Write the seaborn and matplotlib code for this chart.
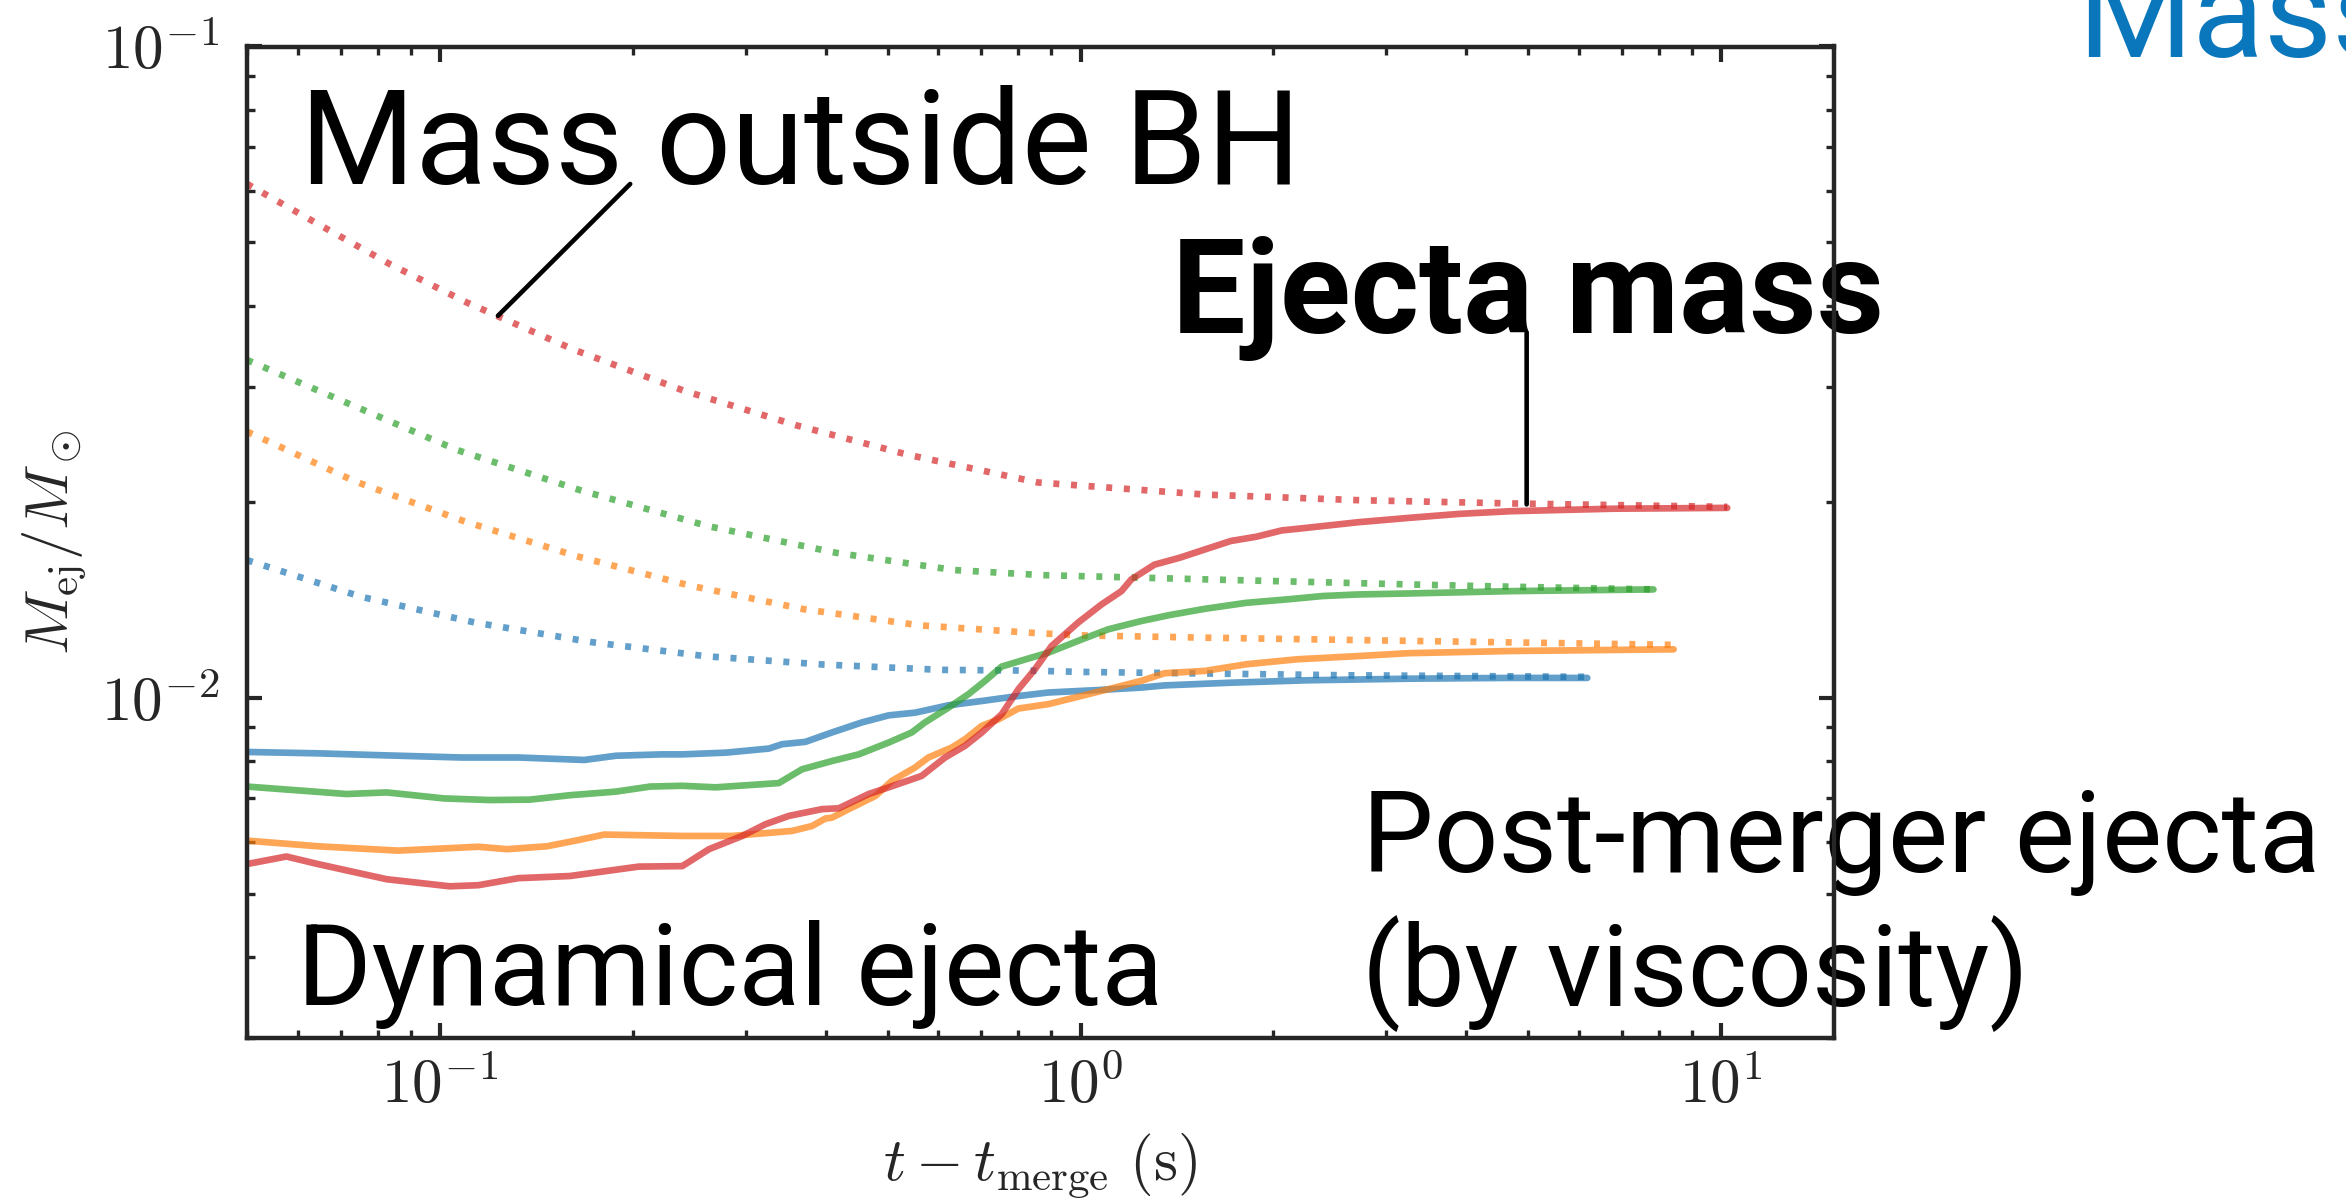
import numpy as np
import pandas as pd
import seaborn as sns
import matplotlib
matplotlib.use("Agg")
import matplotlib.pyplot as plt
from matplotlib.ticker import FuncFormatter, NullFormatter, LogLocator

# ---------------- data ----------------
models = ["blue", "orange", "green", "red"]

# ejecta mass (solid lines)
t_blue_ej = [0.050, 0.0645, 0.0793, 0.1080, 0.1326, 0.1680, 0.1882, 0.2219, 0.2390, 0.2793, 0.3263, 0.3421,
             0.3720, 0.4094, 0.4560, 0.5018, 0.5518, 0.6221, 0.7015, 0.7900, 0.8906, 1.0656, 1.2445, 1.353,
             1.717, 2.258, 3.254, 4.692, 6.18]
m_blue_ej = [0.00825, 0.00821, 0.00816, 0.00809, 0.00809, 0.00802, 0.00814, 0.00818, 0.00818, 0.00823, 0.00835,
             0.00848, 0.00855, 0.00884, 0.00916, 0.00939, 0.00948, 0.00973, 0.00988, 0.01004, 0.01018, 0.01027,
             0.01036, 0.01044, 0.01054, 0.01063, 0.01069, 0.01072, 0.01072]

t_orange_ej = [0.050, 0.0645, 0.0861, 0.1148, 0.1273, 0.1470, 0.1629, 0.1806, 0.2390, 0.2861, 0.3546, 0.3811,
               0.3997, 0.4094, 0.4347, 0.4783, 0.5078, 0.5518, 0.5788, 0.6296, 0.6603, 0.7015, 0.7446, 0.7998,
               0.8906, 1.0037, 1.1308, 1.2445, 1.353, 1.565, 1.814, 2.178, 2.710, 3.254, 4.692, 8.43]
m_orange_ej = [0.00603, 0.00591, 0.00582, 0.00590, 0.00585, 0.00591, 0.00603, 0.00616, 0.00613, 0.00613, 0.00624,
               0.00635, 0.00652, 0.00654, 0.00674, 0.00706, 0.00745, 0.00781, 0.00809, 0.00838, 0.00863, 0.00905,
               0.00926, 0.00962, 0.00977, 0.01006, 0.01036, 0.01061, 0.01090, 0.01099, 0.01125, 0.01145, 0.01158,
               0.01170, 0.01179, 0.01186]

t_green_ej = [0.050, 0.0715, 0.0826, 0.1015, 0.1197, 0.1382, 0.1596, 0.1882, 0.2130, 0.2390, 0.2694, 0.3381,
              0.3676, 0.4094, 0.4505, 0.5018, 0.5453, 0.5718, 0.6221, 0.6684, 0.7098, 0.7534, 0.8388, 0.8906,
              1.0037, 1.1046, 1.2445, 1.378, 1.565, 1.814, 2.099, 2.386, 2.710, 3.254, 4.692, 7.84]
m_green_ej = [0.00730, 0.00711, 0.00715, 0.00700, 0.00696, 0.00697, 0.00708, 0.00717, 0.00730, 0.00732, 0.00728,
              0.00739, 0.00776, 0.00799, 0.00818, 0.00853, 0.00884, 0.00916, 0.00965, 0.01012, 0.01061, 0.01116,
              0.01152, 0.01172, 0.01228, 0.01273, 0.01311, 0.01339, 0.01369, 0.01398, 0.01415, 0.01432, 0.01440,
              0.01445, 0.01457, 0.01466]

t_red_ej = [0.050, 0.0576, 0.0645, 0.0826, 0.1036, 0.1148, 0.1326, 0.1596, 0.2043, 0.2390, 0.2631, 0.2965,
            0.3223, 0.3505, 0.3950, 0.4194, 0.4671, 0.5018, 0.5650, 0.6146, 0.6603, 0.7015, 0.7534, 0.7998,
            0.8487, 0.9012, 0.9917, 1.0783, 1.1584, 1.2005, 1.304, 1.429, 1.565, 1.717, 1.880, 2.061, 2.258,
            2.710, 3.254, 3.908, 4.692, 6.765, 10.22]
m_red_ej = [0.00555, 0.00570, 0.00555, 0.00526, 0.00513, 0.00515, 0.00528, 0.00532, 0.00550, 0.00551, 0.00585,
            0.00613, 0.00639, 0.00658, 0.00674, 0.00676, 0.00711, 0.00728, 0.00758, 0.00809, 0.00843, 0.00884,
            0.00943, 0.01030, 0.01105, 0.01200, 0.01304, 0.01390, 0.01457, 0.01519, 0.01600, 0.01640, 0.01689,
            0.01740, 0.01766, 0.01806, 0.01823, 0.01859, 0.01888, 0.01915, 0.01933, 0.01950, 0.01956]

# mass outside the BH (dotted lines)
t_blue_out = [0.050, 0.0754, 0.1134, 0.172, 0.261, 0.3962, 0.6057, 0.8345, 1.0, 2.613, 6.2]
m_blue_out = [0.01626, 0.01428, 0.01304, 0.01217, 0.01157, 0.01124, 0.01103, 0.01100, 0.01095, 0.01082, 0.01076]

t_orange_out = [0.050, 0.0738, 0.1094, 0.1637, 0.2456, 0.3695, 0.5609, 0.8546, 1.0, 1.565, 3.254, 8.43]
m_orange_out = [0.02562, 0.02147, 0.01864, 0.01648, 0.01486, 0.01367, 0.01291, 0.01256, 0.01246, 0.01236,
                0.01222, 0.01205]

t_green_out = [0.050, 0.0725, 0.1064, 0.1661, 0.2619, 0.4162, 0.634, 0.8698, 1.565, 3.254, 4.692, 7.84]
m_green_out = [0.0330, 0.0282, 0.0240, 0.0208, 0.01834, 0.01668, 0.0157, 0.01542, 0.01519, 0.01492, 0.01480,
               0.01466]

t_red_out = [0.050, 0.0634, 0.0836, 0.1104, 0.1621, 0.2404, 0.3596, 0.5378, 0.8578, 1.565, 2.71, 4.69, 10.22]
m_red_out = [0.0615, 0.0539, 0.0463, 0.0404, 0.0342, 0.0296, 0.0262, 0.0236, 0.0214, 0.0205, 0.0201, 0.01987,
             0.01963]

# text
label_outside = "Mass outside BH"
label_ejecta = "Ejecta mass"
label_dyn = "Dynamical ejecta"
label_post_1 = "Post-merger ejecta"
label_post_2 = "(by viscosity)"
label_title = "Mass"
xlabel = r"$t - t_{\rm merge}\ (\rm s)$"
ylabel = r"$M_{\rm ej}/M_\odot$"

# ---------------- style ----------------
sns.set_theme(style="ticks")
plt.rcParams.update({
    "font.family": ["Roboto", "DejaVu Sans"],
    "mathtext.fontset": "cm",
    "axes.linewidth": 3.2,
    "xtick.direction": "in", "ytick.direction": "in",
    "xtick.top": True, "ytick.right": True,
    "xtick.major.size": 11, "ytick.major.size": 11,
    "xtick.minor.size": 5.5, "ytick.minor.size": 5.5,
    "xtick.major.width": 3.0, "ytick.major.width": 3.0,
    "xtick.minor.width": 2.4, "ytick.minor.width": 2.4,
    "xtick.minor.visible": True, "ytick.minor.visible": True,
})

W, H = 2346, 1203
fig = plt.figure(figsize=(W / 100, H / 100), dpi=100)
ax = fig.add_axes([247 / W, 1 - 1038 / H, (1834 - 247) / W, (1038 - 46.5) / H])

palette = sns.color_palette("tab10")[:4]
series = {
    "blue": (t_blue_ej, m_blue_ej, t_blue_out, m_blue_out),
    "orange": (t_orange_ej, m_orange_ej, t_orange_out, m_orange_out),
    "green": (t_green_ej, m_green_ej, t_green_out, m_green_out),
    "red": (t_red_ej, m_red_ej, t_red_out, m_red_out),
}
lw = 4.8
for name, col in zip(models, palette):
    te, me, to, mo = series[name]
    sns.lineplot(x=te, y=me, ax=ax, color=col, alpha=0.7, lw=lw, estimator=None, sort=False)
    sns.lineplot(x=to, y=mo, ax=ax, color=col, alpha=0.7, lw=lw, estimator=None, sort=False,
                 linestyle=(0, (0.9, 1.75)))

ax.set_xscale("log")
ax.set_yscale("log")
ax.set_xlim(0.05, 15)
ax.set_ylim(0.003, 0.1)

fmt = FuncFormatter(lambda v, p: r"$10^{%d}$" % int(round(np.log10(v))))
ax.xaxis.set_major_locator(LogLocator(base=10))
ax.yaxis.set_major_locator(LogLocator(base=10))
ax.xaxis.set_major_formatter(fmt)
ax.yaxis.set_major_formatter(fmt)
ax.xaxis.set_minor_formatter(NullFormatter())
ax.yaxis.set_minor_formatter(NullFormatter())
ax.xaxis.set_minor_locator(LogLocator(base=10, subs=np.arange(2, 10)))
ax.yaxis.set_minor_locator(LogLocator(base=10, subs=np.arange(2, 10)))
ax.tick_params(axis="x", which="both", labelsize=44, pad=14)
ax.tick_params(axis="y", which="both", labelsize=44, pad=20)
for s in ax.spines.values():
    s.set_linewidth(3.2)
    s.set_zorder(2.5)

ax.set_xlabel(xlabel, fontsize=44)
ax.set_ylabel(ylabel, fontsize=44)
ax.xaxis.set_label_coords(0.5, -0.095)
ax.yaxis.set_label_coords(-0.10, 0.5)

renderer = fig.canvas.get_renderer()


def ftext(xp, yp, s, target_w, **kw):
    t = ax.text(xp / W, 1 - yp / H, s, transform=fig.transFigure, clip_on=False, zorder=2,
                ha="left", va="baseline", **kw)
    if target_w:
        probe = fig.text(0, 0, s, fontsize=t.get_fontsize(), fontweight=t.get_fontweight())
        w = probe.get_window_extent(renderer).width
        probe.remove()
        t.set_fontsize(t.get_fontsize() * target_w / w)
    return t


t1 = ftext(300, 184, label_outside, 1000, fontsize=94, color="black")
ftext(1172, 333, label_ejecta, 712, fontsize=94, color="black", fontweight="bold")
ftext(297, 1005, label_dyn, 866, fontsize=80, color="black")
tp = ftext(1362, 871.7, label_post_1, 958, fontsize=84, color="black")
ftext(1362, 1006, label_post_2, None, fontsize=tp.get_fontsize(), color="black")
ftext(2077, 56.7, label_title, None, fontsize=t1.get_fontsize(), color="#0a77bc")

# pointer lines
ax.annotate("", xy=(0.1232, 0.03858), xytext=(0.1982, 0.0615),
            arrowprops=dict(arrowstyle="-", color="black", lw=3.3, shrinkA=0, shrinkB=0))
ax.annotate("", xy=(4.97, 0.0198), xytext=(4.97, 0.03634),
            arrowprops=dict(arrowstyle="-", color="black", lw=3.3, shrinkA=0, shrinkB=0))

fig.savefig("out.png", dpi=100)
